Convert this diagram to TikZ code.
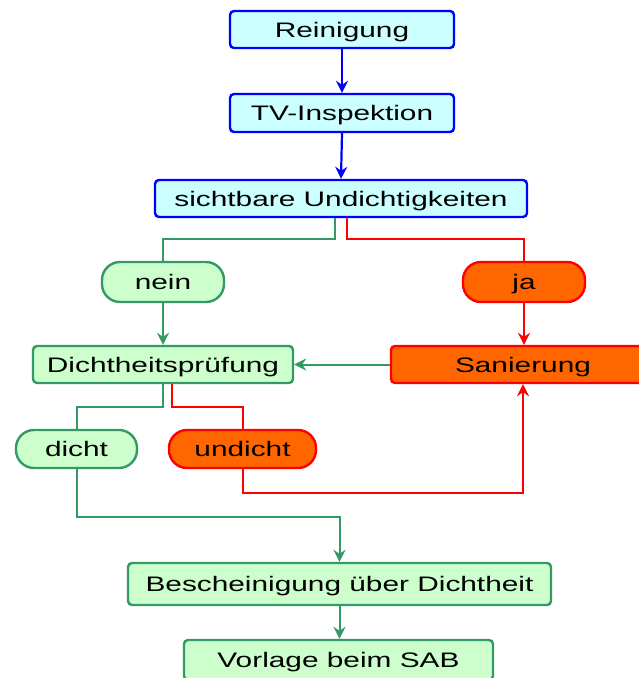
\documentclass[tikz,border=0pt]{standalone}
\usepackage{fontspec}
\setmainfont{Liberation Sans}[FakeStretch=1.42]
\usetikzlibrary{arrows.meta,calc}
\definecolor{bfill}{HTML}{CCFFFF}
\definecolor{bdraw}{HTML}{0000FF}
\definecolor{gfill}{HTML}{CCFFCC}
\definecolor{gdraw}{HTML}{339966}
\definecolor{ofill}{HTML}{FF6600}
\definecolor{rdraw}{HTML}{FF0000}
\tikzset{
  box/.style={rectangle, rounded corners=4pt, line width=2.4pt, inner sep=0pt,
    text height=15pt, text depth=0pt,
    font=\fontsize{21}{25}\selectfont, text=black},
  bluebox/.style={box, draw=bdraw, fill=bfill},
  greenbox/.style={box, draw=gdraw, fill=gfill},
  orangebox/.style={box, draw=rdraw, fill=ofill},
  greenpill/.style={greenbox, rounded corners=18pt},
  orangepill/.style={orangebox, rounded corners=18pt},
  tip/.style={-{Stealth[length=12pt,width=12pt,inset=4pt]}},
  bline/.style={draw=bdraw, line width=2.2pt},
  gline/.style={draw=gdraw, line width=2pt},
  rline/.style={draw=rdraw, line width=2pt},
}
\begin{document}
\begin{tikzpicture}[x=1pt,y=-1pt]
\useasboundingbox (0,0) rectangle (639,678);
\node[bluebox, minimum width=224pt, minimum height=37pt] (rein) at (342,29.5) {Reinigung};
\node[bluebox, minimum width=224pt, minimum height=38pt] (tv) at (342,113) {TV-Inspektion};
\node[bluebox, minimum width=372pt, minimum height=37pt] (sicht) at (341,198.5) {sichtbare Undichtigkeiten};
\node[greenpill, minimum width=122pt, minimum height=40pt] (nein) at (163,282) {nein};
\node[orangepill, minimum width=122pt, minimum height=40pt] (ja) at (524,282) {ja};
\node[greenbox, minimum width=260pt, minimum height=37pt] (dp) at (163,364.5) {Dichtheitsprüfung};
\node[orangebox, minimum width=264pt, minimum height=37pt] (san) at (523,364.5) {Sanierung};
\node[greenpill, minimum width=121pt, minimum height=38pt] (dicht) at (76.5,449) {dicht};
\node[orangepill, minimum width=147pt, minimum height=38pt] (undicht) at (242.5,449) {undicht};
\node[greenbox, minimum width=423pt, minimum height=42pt] (besch) at (339.5,584) {Bescheinigung über Dichtheit};
\node[greenbox, minimum width=309pt, minimum height=40pt] (vorl) at (338.5,660) {Vorlage beim SAB};

\draw[bline, tip] (rein.south) -- (tv.north);
\draw[bline, tip] (tv.south) -- (sicht.north);
\draw[gline] ([xshift=-6pt]sicht.south) -- ++(0,21) -| (nein.north);
\draw[rline] ([xshift=6pt]sicht.south) -- ++(0,21) -| (ja.north);
\draw[gline, tip] (nein.south) -- (dp.north);
\draw[rline, tip] (ja.south) -- (ja.south |- san.north);
\draw[gline, tip] (san.west) -- (dp.east);
\draw[gline] (dp.south) -- ++(0,23) -| (dicht.north);
\draw[rline] ([xshift=9pt]dp.south) -- ++(0,23) -| (undicht.north);
\draw[rline, tip] (undicht.south) -- ++(0,24) -| (san.south);
\draw[gline, tip] (dicht.south) -- ++(0,48) -| (besch.north);
\draw[gline, tip] (besch.south) -- (besch.south |- vorl.north);
\end{tikzpicture}
\end{document}
